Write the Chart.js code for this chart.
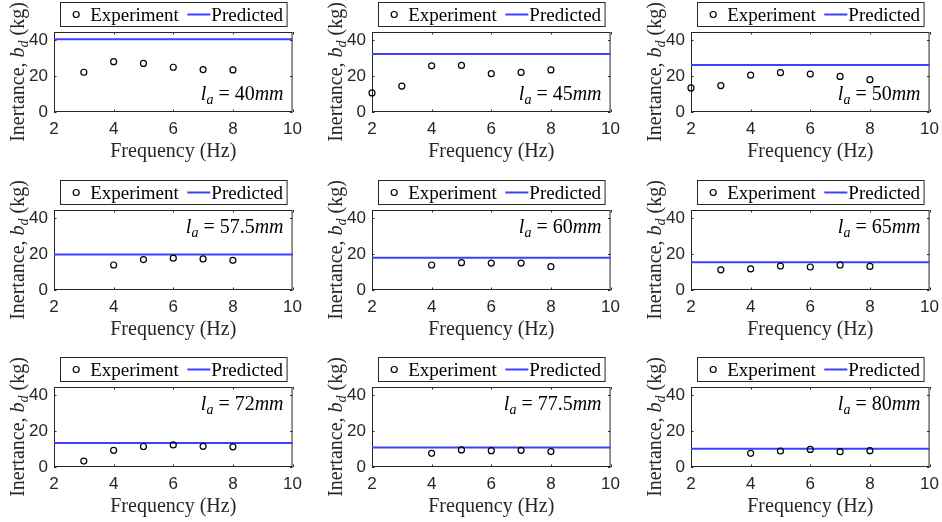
<!DOCTYPE html>
<html>
<head>
<meta charset="utf-8">
<script src="https://cdn.jsdelivr.net/npm/chart.js@4"></script>
<style>
  html, body { margin: 0; padding: 0; background: #fff; }
  #fig { position: relative; width: 942px; height: 522px; overflow: hidden; background: #fff; }
  #fig canvas { position: absolute; }
</style>
</head>
<body>
<div id="fig"></div>
<script>
// ---------------- DATA ----------------
const LA_LABELS = ['40', '45', '50', '57.5', '60', '65', '72', '77.5', '80'];   // arm length l_a (mm)
const X_TICKS = [2, 4, 6, 8, 10];
const Y_TICKS = [0, 20, 40];

const freq_40   = [3, 4, 5, 6, 7, 8];
const exp_40    = [22.1, 28.0, 27.0, 24.9, 23.6, 23.4];
const freq_45   = [2, 3, 4, 5, 6, 7, 8];
const exp_45    = [10.6, 14.4, 25.7, 25.9, 21.3, 22.0, 23.4];
const freq_50   = [2, 3, 4, 5, 6, 7, 8];
const exp_50    = [13.4, 14.7, 20.5, 21.9, 21.1, 19.8, 18.0];
const freq_57_5 = [4, 5, 6, 7, 8];
const exp_57_5  = [13.9, 16.9, 17.7, 17.3, 16.5];
const freq_60   = [4, 5, 6, 7, 8];
const exp_60    = [13.9, 15.2, 15.0, 15.0, 13.0];
const freq_65   = [3, 4, 5, 6, 7, 8];
const exp_65    = [11.2, 11.7, 13.3, 12.8, 13.9, 13.1];
const freq_72   = [3, 4, 5, 6, 7, 8];
const exp_72    = [3.3, 9.3, 11.4, 12.3, 11.5, 11.2];
const freq_77_5 = [4, 5, 6, 7, 8];
const exp_77_5  = [7.6, 9.5, 9.1, 9.3, 8.6];
const freq_80   = [4, 5, 6, 7, 8];
const exp_80    = [7.6, 8.9, 9.8, 8.5, 9.1];

const PREDICTED = [40.5, 32.3, 26.1, 19.8, 18.0, 15.5, 13.3, 10.9, 10.2];

const FREQS = [freq_40, freq_45, freq_50, freq_57_5, freq_60, freq_65, freq_72, freq_77_5, freq_80];
const EXPS  = [exp_40, exp_45, exp_50, exp_57_5, exp_60, exp_65, exp_72, exp_77_5, exp_80];

// ---------------- LAYOUT ----------------
const COL_LEFT = [54, 372, 691];
const ROW_TOP = [32, 210, 387];
const PLOT_W = 243, PLOT_H = 80;
const M_L = 55, M_T = 33, M_R = 12, M_B = 55;
const Y_MAX = 44.5;

const AX_COLOR = '#262626';
const BLUE = '#3f3fff';
const SERIF = '"Liberation Serif", "Times New Roman", serif';
const SANS = '"Liberation Sans", Arial, sans-serif';

function drawRuns(ctx, runs, x, y, align) {
  let total = 0;
  runs.forEach(r => { ctx.font = r.f; r.w = ctx.measureText(r.t).width; total += r.w; });
  let cx = align === 'right' ? x - total : (align === 'center' ? x - total / 2 : x);
  runs.forEach(r => {
    ctx.font = r.f;
    ctx.fillText(r.t, cx, y + (r.dy || 0));
    cx += r.w;
  });
  return total;
}

const matlabPlugin = {
  id: 'matlabAxes',
  beforeDatasetsDraw(chart) {
    const { ctx, chartArea: a } = chart;
    const xs = chart.scales.x, ys = chart.scales.y;
    ctx.save();
    ctx.strokeStyle = AX_COLOR;
    ctx.lineWidth = 1;
    ctx.strokeRect(a.left + 0.5, a.top + 0.5, a.right - a.left - 1, a.bottom - a.top - 1);
    const tl = 2.5;
    ctx.beginPath();
    X_TICKS.forEach(v => {
      const px = Math.round(xs.getPixelForValue(v)) + 0.5;
      ctx.moveTo(px, a.bottom); ctx.lineTo(px, a.bottom - tl);
      ctx.moveTo(px, a.top); ctx.lineTo(px, a.top + tl);
    });
    Y_TICKS.forEach(v => {
      const py = Math.round(ys.getPixelForValue(v)) + 0.5;
      ctx.moveTo(a.left, py); ctx.lineTo(a.left + tl, py);
      ctx.moveTo(a.right, py); ctx.lineTo(a.right - tl, py);
    });
    ctx.stroke();
    ctx.restore();
  },
  afterDraw(chart) {
    const { ctx, chartArea: a } = chart;
    const o = chart.options.plugins.matlabAxes;
    ctx.save();
    ctx.textBaseline = 'alphabetic';
    ctx.fillStyle = AX_COLOR;

    // x title
    ctx.textAlign = 'left';
    drawRuns(ctx, [{ t: 'Frequency (Hz)', f: '20px ' + SERIF }], (a.left + a.right) / 2, a.bottom + 44.5, 'center');

    // y title (rotated)
    ctx.save();
    ctx.translate(a.left - 30, (a.top + a.bottom) / 2);
    ctx.rotate(-Math.PI / 2);
    drawRuns(ctx, [
      { t: 'Inertance, ', f: '20px ' + SERIF },
      { t: 'b', f: 'italic 20px ' + SERIF },
      { t: 'd', f: 'italic 14px ' + SERIF, dy: 4 },
      { t: ' (kg)', f: '20px ' + SERIF }
    ], 0, 0, 'center');
    ctx.restore();

    // annotation l_a = ...
    ctx.fillStyle = '#000';
    const ay = o.annotBottom ? a.bottom - 12.5 : a.top + 22.5;
    drawRuns(ctx, [
      { t: 'l', f: 'italic 20px ' + SERIF },
      { t: 'a', f: 'italic 14px ' + SERIF, dy: 4 },
      { t: ' = ', f: '20px ' + SERIF },
      { t: o.la, f: '20px ' + SERIF },
      { t: 'mm', f: 'italic 20px ' + SERIF }
    ], a.right - 9, ay, 'right');

    // legend
    const lf = '19px ' + SERIF;
    ctx.font = lf;
    const ds = chart.data.datasets;
    const w1 = ctx.measureText(ds[0].label).width;
    const w2 = ctx.measureText(ds[1].label).width;
    const boxW = 29.7 + w1 + 8.5 + 23 + 1 + w2 + 4;
    const bl = Math.round((a.left + a.right) / 2 - boxW / 2) + 0.5;
    const bt = a.top - 30 + 0.5;
    const bh = 24;
    ctx.fillStyle = '#fff';
    ctx.fillRect(bl, bt, boxW, bh);
    ctx.strokeStyle = AX_COLOR;
    ctx.lineWidth = 1;
    ctx.strokeRect(bl, bt, boxW, bh);
    const cy = bt + bh / 2;
    // marker
    ctx.beginPath();
    ctx.arc(bl + 15.7, cy, ds[0].pointRadius, 0, Math.PI * 2);
    ctx.strokeStyle = ds[0].borderColor;
    ctx.lineWidth = ds[0].borderWidth;
    ctx.stroke();
    ctx.fillStyle = '#000';
    ctx.font = lf;
    ctx.fillText(ds[0].label, bl + 29.7, cy + 6);
    const lx0 = bl + 29.7 + w1 + 8.5;
    ctx.beginPath();
    ctx.moveTo(lx0, cy); ctx.lineTo(lx0 + 23, cy);
    ctx.strokeStyle = ds[1].borderColor;
    ctx.lineWidth = ds[1].borderWidth;
    ctx.stroke();
    ctx.fillText(ds[1].label, lx0 + 24, cy + 6);
    ctx.restore();
  }
};

const fig = document.getElementById('fig');

for (let i = 0; i < 9; i++) {
  const r = Math.floor(i / 3), c = i % 3;
  const cv = document.createElement('canvas');
  const W = M_L + PLOT_W + M_R, H = M_T + PLOT_H + M_B;
  cv.width = W; cv.height = H;
  cv.style.width = W + 'px'; cv.style.height = H + 'px';
  cv.style.left = (COL_LEFT[c] - M_L) + 'px';
  cv.style.top = (ROW_TOP[r] - M_T) + 'px';
  fig.appendChild(cv);

  const expPts = FREQS[i].map((f, k) => ({ x: f, y: EXPS[i][k] }));
  const xMin = X_TICKS[0], xMax = X_TICKS[X_TICKS.length - 1];
  const predPts = [{ x: xMin, y: PREDICTED[i] }, { x: xMax, y: PREDICTED[i] }];

  new Chart(cv, {
    type: 'scatter',
    data: {
      datasets: [
        {
          label: 'Experiment', data: expPts, showLine: false,
          pointStyle: 'circle', pointRadius: 3, pointHoverRadius: 3,
          borderColor: '#000', backgroundColor: 'rgba(0,0,0,0)', borderWidth: 1.2,
          clip: false, order: 1
        },
        {
          label: 'Predicted', data: predPts, showLine: true,
          pointRadius: 0, borderColor: BLUE, backgroundColor: BLUE, borderWidth: 2,
          clip: false, order: 2
        }
      ]
    },
    options: {
      responsive: false,
      animation: false,
      devicePixelRatio: 1,
      events: [],
      layout: { padding: { left: 0, top: M_T, right: M_R, bottom: 0 } },
      plugins: {
        legend: { display: false },
        tooltip: { enabled: false },
        title: { display: false },
        matlabAxes: { la: LA_LABELS[i], annotBottom: r === 0 }
      },
      scales: {
        x: {
          type: 'linear', min: xMin, max: xMax,
          afterBuildTicks(s) { s.ticks = X_TICKS.map(v => ({ value: v })); },
          afterFit(s) { s.height = M_B; },
          grid: { display: false, drawTicks: false },
          border: { display: false },
          ticks: { font: { family: 'Liberation Sans', size: 17 }, color: AX_COLOR, padding: 7, maxRotation: 0, autoSkip: false }
        },
        y: {
          type: 'linear', min: 0, max: Y_MAX,
          afterBuildTicks(s) { s.ticks = Y_TICKS.map(v => ({ value: v })); },
          afterFit(s) { s.width = M_L; },
          grid: { display: false, drawTicks: false },
          border: { display: false },
          ticks: { font: { family: 'Liberation Sans', size: 17 }, color: AX_COLOR, padding: 6, autoSkip: false }
        }
      }
    },
    plugins: [matlabPlugin]
  });
}
</script>
</body>
</html>
